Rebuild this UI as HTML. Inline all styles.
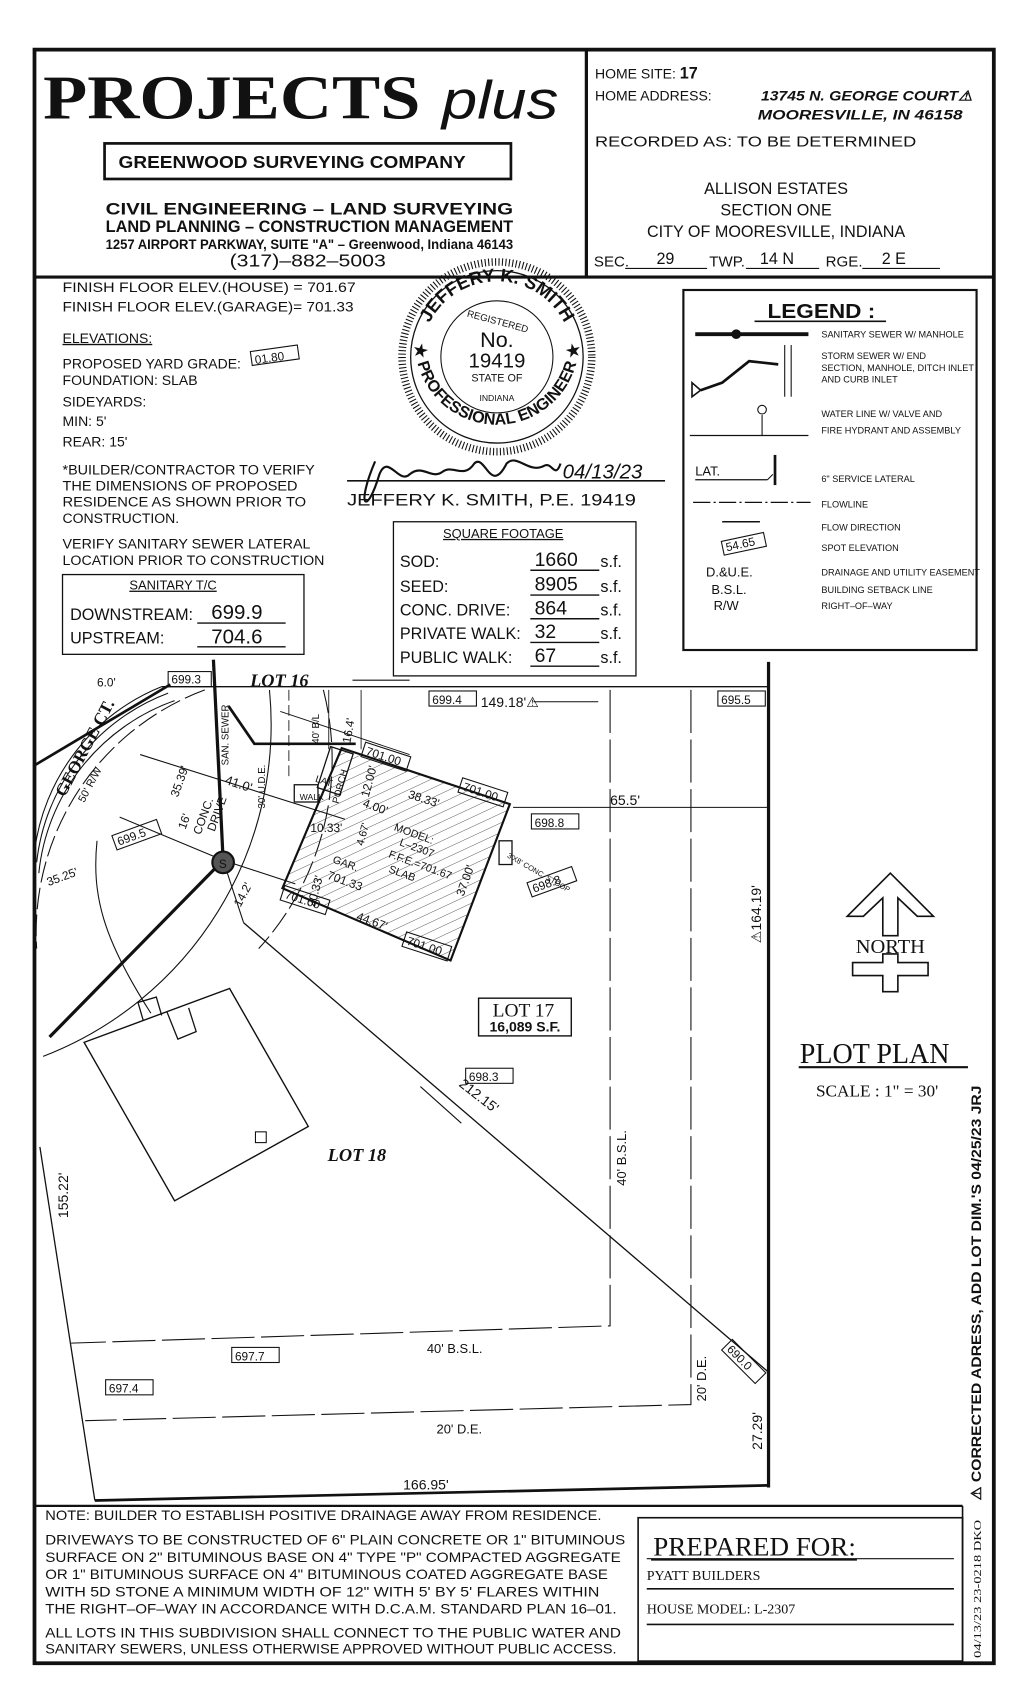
<!DOCTYPE html>
<html><head><meta charset="utf-8"><style>
html,body{margin:0;padding:0;background:#fff}
svg{display:block}
text{font-family:"Liberation Sans",sans-serif;fill:#111}
.s{font-family:"Liberation Serif",serif}
</style></head><body>
<svg width="1024" height="1687" viewBox="0 0 950 1565" xmlns="http://www.w3.org/2000/svg">
<defs>
<pattern id="h" width="8" height="8" patternUnits="userSpaceOnUse" patternTransform="rotate(-25)">
<line x1="0" y1="0" x2="8" y2="0" stroke="#444" stroke-width="0.8"/></pattern>
</defs>
<g fill="none" stroke="#111">
<rect x="32" y="46" width="890" height="1497" stroke-width="3.5"/>
<line x1="32" y1="257" x2="922" y2="257" stroke-width="3"/>
<line x1="544" y1="46" x2="544" y2="257" stroke-width="3"/>
<line x1="32" y1="1397" x2="893" y2="1397" stroke-width="2"/>
<line x1="893" y1="1397" x2="893" y2="1543" stroke-width="1.5"/>
<rect x="592" y="1408" width="301" height="133" stroke-width="1.5"/>
<line x1="600" y1="1446" x2="885" y2="1446" stroke-width="1"/>
<line x1="600" y1="1474" x2="885" y2="1474" stroke-width="1.5"/>
<line x1="600" y1="1507" x2="885" y2="1507" stroke-width="1.5"/>
<rect x="97" y="133" width="377" height="33" stroke-width="2.5"/>
<rect x="634" y="269" width="272" height="334" stroke-width="2"/>
<rect x="365" y="484" width="225" height="143" stroke-width="1.2"/>
<rect x="58" y="533" width="224" height="74" stroke-width="1.2"/>
<rect x="233" y="323" width="44" height="13" stroke-width="1" transform="rotate(-8 255 330)"/>
</g>
<text x="40" y="110" class="s" font-size="58" font-weight="bold" textLength="350" lengthAdjust="spacingAndGlyphs">PROJECTS</text>
<text x="410" y="110" font-size="50" font-style="italic" textLength="108" lengthAdjust="spacingAndGlyphs">plus</text>
<text x="110" y="156" font-size="16" font-weight="bold" textLength="322" lengthAdjust="spacingAndGlyphs">GREENWOOD SURVEYING COMPANY</text>
<text x="98" y="199" font-size="15" font-weight="bold" textLength="378" lengthAdjust="spacingAndGlyphs">CIVIL  ENGINEERING  –  LAND  SURVEYING</text>
<text x="98" y="215" font-size="15" font-weight="bold" textLength="378" lengthAdjust="spacingAndGlyphs">LAND  PLANNING  –  CONSTRUCTION  MANAGEMENT</text>
<text x="98" y="231" font-size="13" font-weight="bold" textLength="378" lengthAdjust="spacingAndGlyphs">1257 AIRPORT PARKWAY, SUITE "A" – Greenwood, Indiana 46143</text>
<text x="213" y="247" font-size="16" textLength="145" lengthAdjust="spacingAndGlyphs">(317)–882–5003</text>
<text x="552" y="73" font-size="13">HOME SITE: <tspan font-weight="bold" font-size="15">17</tspan></text>
<text x="552" y="93" font-size="13">HOME ADDRESS:</text>
<text x="706" y="93" font-size="13" font-weight="bold" font-style="italic" textLength="196" lengthAdjust="spacingAndGlyphs">13745 N. GEORGE COURT⚠</text>
<text x="703" y="111" font-size="13" font-weight="bold" font-style="italic" textLength="190" lengthAdjust="spacingAndGlyphs">MOORESVILLE, IN 46158</text>
<text x="552" y="136" font-size="14" textLength="298" lengthAdjust="spacingAndGlyphs">RECORDED AS:  TO  BE  DETERMINED</text>
<text x="720" y="180" font-size="15" text-anchor="middle">ALLISON  ESTATES</text>
<text x="720" y="200" font-size="15" text-anchor="middle">SECTION  ONE</text>
<text x="720" y="220" font-size="15" text-anchor="middle">CITY  OF  MOORESVILLE,  INDIANA</text>
<text x="551" y="247" font-size="14">SEC.</text>
<text x="609" y="245" font-size="15">29</text>
<text x="658" y="247" font-size="14">TWP.</text>
<text x="705" y="245" font-size="15">14  N</text>
<text x="766" y="247" font-size="14">RGE.</text>
<text x="818" y="245" font-size="15">2  E</text>
<g stroke="#111" stroke-width="1"><line x1="580" y1="249" x2="656" y2="249"/><line x1="692" y1="249" x2="760" y2="249"/><line x1="800" y1="249" x2="872" y2="249"/></g>
<g font-size="13">
<text x="58" y="271" textLength="272" lengthAdjust="spacingAndGlyphs">FINISH  FLOOR  ELEV.(HOUSE)  =  701.67</text>
<text x="58" y="289" textLength="270" lengthAdjust="spacingAndGlyphs">FINISH  FLOOR  ELEV.(GARAGE)=  701.33</text>
<text x="58" y="318" text-decoration="underline">ELEVATIONS:</text>
<text x="58" y="342">PROPOSED YARD GRADE:</text>
<text x="236" y="335" font-size="11" transform="rotate(-8 255 330)">01.80</text>
<text x="58" y="357">FOUNDATION: SLAB</text>
<text x="58" y="377">SIDEYARDS:</text>
<text x="58" y="395">MIN:  5'</text>
<text x="58" y="414">REAR:  15'</text>
<text x="58" y="440" textLength="234" lengthAdjust="spacingAndGlyphs">*BUILDER/CONTRACTOR  TO  VERIFY</text>
<text x="58" y="455" textLength="218" lengthAdjust="spacingAndGlyphs">THE  DIMENSIONS  OF  PROPOSED</text>
<text x="58" y="470" textLength="226" lengthAdjust="spacingAndGlyphs">RESIDENCE  AS  SHOWN  PRIOR  TO</text>
<text x="58" y="485">CONSTRUCTION.</text>
<text x="58" y="509" textLength="230" lengthAdjust="spacingAndGlyphs">VERIFY  SANITARY  SEWER  LATERAL</text>
<text x="58" y="524" textLength="243" lengthAdjust="spacingAndGlyphs">LOCATION  PRIOR  TO  CONSTRUCTION</text>
<text x="120" y="547" font-size="12" text-decoration="underline">SANITARY T/C</text>
<text x="65" y="575" font-size="15">DOWNSTREAM:</text>
<text x="65" y="597" font-size="15">UPSTREAM:</text>
<text x="196" y="574" font-size="19">699.9</text>
<text x="196" y="597" font-size="19">704.6</text>
<text x="411" y="499" font-size="12" text-decoration="underline">SQUARE FOOTAGE</text>
<text x="371" y="526" font-size="15">SOD:</text>
<text x="371" y="549" font-size="15">SEED:</text>
<text x="371" y="571" font-size="15">CONC.  DRIVE:</text>
<text x="371" y="593" font-size="15">PRIVATE  WALK:</text>
<text x="371" y="615" font-size="15">PUBLIC  WALK:</text>
<text x="496" y="525" font-size="18">1660</text>
<text x="496" y="548" font-size="18">8905</text>
<text x="496" y="570" font-size="18">864</text>
<text x="496" y="592" font-size="18">32</text>
<text x="496" y="614" font-size="18">67</text>
<text x="557" y="526" font-size="15">s.f.</text><text x="557" y="549" font-size="15">s.f.</text><text x="557" y="571" font-size="15">s.f.</text><text x="557" y="593" font-size="15">s.f.</text><text x="557" y="615" font-size="15">s.f.</text>
</g>
<g stroke="#111" stroke-width="1.3">
<line x1="183" y1="578" x2="265" y2="578"/><line x1="183" y1="600" x2="265" y2="600"/>
<line x1="492" y1="529" x2="556" y2="529"/><line x1="492" y1="552" x2="556" y2="552"/><line x1="492" y1="574" x2="556" y2="574"/><line x1="492" y1="596" x2="556" y2="596"/><line x1="492" y1="618" x2="556" y2="618"/>
</g>
<g fill="none" stroke="#111">
<circle cx="461" cy="331" r="88" stroke-width="7" stroke-dasharray="1 2.2"/>
<circle cx="461" cy="331" r="80" stroke-width="1.2"/>
<circle cx="461" cy="331" r="52" stroke-width="1"/>
</g>
<path id="arcT" d="M391,331 A70,70 0 0 1 531,331" fill="none"/>
<path id="arcB" d="M385,318 A76,76 0 0 0 537,318" fill="none"/>
<text font-size="17" font-weight="bold"><textPath href="#arcT" startOffset="50%" text-anchor="middle">JEFFERY K. SMITH</textPath></text>
<text font-size="15" font-weight="bold"><textPath href="#arcB" startOffset="50%" text-anchor="middle">★ PROFESSIONAL ENGINEER ★</textPath></text>
<text x="461" y="301" font-size="9" text-anchor="middle" transform="rotate(15 461 301)">REGISTERED</text>
<text x="461" y="322" font-size="20" text-anchor="middle">No.</text>
<text x="461" y="341" font-size="19" text-anchor="middle">19419</text>
<text x="461" y="354" font-size="10" text-anchor="middle">STATE OF</text>
<text x="461" y="372" font-size="8" text-anchor="middle">INDIANA</text>
<path d="M348,428 C330,470 340,480 352,440 C360,420 370,450 380,440 C392,430 400,445 410,438 C420,430 430,445 440,430 C450,420 455,460 470,430 C480,420 490,440 505,432 C512,428 515,445 520,430" fill="none" stroke="#111" stroke-width="2"/>
<line x1="322" y1="446" x2="617" y2="446" stroke="#111" stroke-width="1.5"/>
<text x="522" y="444" font-size="19" font-style="italic">04/13/23</text>
<text x="322" y="469" font-size="15" textLength="268" lengthAdjust="spacingAndGlyphs">JEFFERY  K.  SMITH,  P.E.  19419</text>
<text x="712" y="295" font-size="19" font-weight="bold" textLength="100" lengthAdjust="spacingAndGlyphs">LEGEND :</text>
<line x1="700" y1="298" x2="822" y2="298" stroke="#111" stroke-width="1.5"/>
<g stroke="#111" fill="none">
<line x1="645" y1="310" x2="750" y2="310" stroke-width="3.5"/>
<circle cx="683" cy="310" r="4" fill="#111"/>
<polyline points="650,362 670,355 695,335 722,338" stroke-width="2.5"/>
<line x1="728" y1="320" x2="728" y2="368" stroke-width="1"/><line x1="734" y1="320" x2="734" y2="368" stroke-width="1"/>
<polygon points="642,355 650,362 642,368" stroke-width="1.5"/>
<line x1="640" y1="404" x2="750" y2="404" stroke-width="1.2"/>
<line x1="707" y1="385" x2="707" y2="404"/><circle cx="707" cy="380" r="4"/>
<line x1="645" y1="445" x2="712" y2="445" stroke-width="1.2"/><line x1="712" y1="445" x2="717" y2="440"/>
<line x1="719" y1="422" x2="719" y2="450" stroke-width="2.5"/>
<line x1="643" y1="466" x2="752" y2="466" stroke-dasharray="16 3 2 3" stroke-width="1.2"/>
<line x1="670" y1="484" x2="705" y2="484" stroke-width="1.5"/>
<rect x="670" y="498" width="40" height="13" transform="rotate(-12 690 504)" stroke-width="1"/>
</g>
<g font-size="8.5">
<text x="762" y="313">SANITARY SEWER W/ MANHOLE</text>
<text x="762" y="333">STORM SEWER W/ END</text><text x="762" y="344">SECTION, MANHOLE, DITCH INLET</text><text x="762" y="355">AND CURB INLET</text>
<text x="762" y="387">WATER LINE W/ VALVE AND</text><text x="762" y="402">FIRE HYDRANT AND ASSEMBLY</text>
<text x="762" y="447">6" SERVICE LATERAL</text>
<text x="762" y="471">FLOWLINE</text>
<text x="762" y="492">FLOW DIRECTION</text>
<text x="762" y="511">SPOT ELEVATION</text>
<text x="762" y="534">DRAINAGE AND UTILITY EASEMENT</text>
<text x="762" y="550">BUILDING SETBACK LINE</text>
<text x="762" y="565">RIGHT–OF–WAY</text>
</g>
<text x="645" y="441" font-size="12">LAT.</text>
<text x="673" y="508" font-size="11" transform="rotate(-12 690 504)">54.65</text>
<text x="655" y="535" font-size="12">D.&amp;U.E.</text>
<text x="660" y="551" font-size="12">B.S.L.</text>
<text x="662" y="566" font-size="12">R/W</text>
<g fill="none" stroke="#111">
<line x1="713" y1="614" x2="713" y2="1380" stroke-width="3"/>
<line x1="150" y1="637" x2="713" y2="637" stroke-width="1.2"/>
<line x1="88" y1="1392" x2="713" y2="1378" stroke-width="2.5"/>
<line x1="37" y1="1064" x2="88" y2="1392" stroke-width="1.2"/>
<line x1="226" y1="856" x2="713" y2="1273" stroke-width="1.2"/>
<polyline points="566,640 566,1230 66,1246" stroke-width="1" stroke-dasharray="40 6"/>
<polyline points="641,640 641,1303 79,1318" stroke-width="1" stroke-dasharray="40 6"/>
<line x1="476" y1="749" x2="713" y2="749" stroke-width="1"/>
<polyline points="198,612 207,798 46,962" stroke-width="3"/>
<polyline points="212,655 236,690 330,690" stroke-width="2.5"/>
<line x1="158" y1="635" x2="32" y2="710" stroke-width="2.5"/>
<path d="M150,637 A190,190 0 0 0 32,790" stroke-width="1"/>
<path d="M156,643 A190,190 0 0 0 34,800" stroke-width="1"/>
<path d="M162,650 A190,190 0 0 0 36,810" stroke-width="1"/>
<path d="M190,640 A240,240 0 0 0 34,880" stroke-width="1" stroke-dasharray="20 5"/>
<path d="M250,640 A330,330 0 0 1 40,980" stroke-width="1"/>
<path d="M300,640 A260,260 0 0 1 240,880" stroke-width="1" stroke-dasharray="22 5"/>
<path d="M90,780 C85,830 95,870 140,940" stroke-width="1"/>
<line x1="130" y1="700" x2="320" y2="760" stroke-width="1"/>
<line x1="111" y1="758" x2="207" y2="798" stroke-width="1"/>
<line x1="207" y1="798" x2="274" y2="820" stroke-width="1"/>
<line x1="207" y1="798" x2="226" y2="856" stroke-width="1"/>
<line x1="260" y1="660" x2="380" y2="700" stroke-width="0.8"/>
<line x1="268" y1="640" x2="268" y2="720" stroke-width="0.8" stroke-dasharray="10 4"/>
<line x1="305" y1="640" x2="305" y2="695" stroke-width="0.8"/>
<line x1="335" y1="640" x2="335" y2="695" stroke-width="0.8"/>
<polygon points="317,694 473,746 418,891 262,824" fill="url(#h)" stroke-width="2"/>
<rect x="300" y="695" width="22" height="40" stroke-width="1.2" transform="rotate(18 311 715)"/>
<rect x="273" y="728" width="22" height="16" stroke-width="1.2"/>
<rect x="463" y="780" width="12" height="22" stroke-width="1.2"/>
<polygon points="78,967 213,917 286,1045 162,1114" stroke-width="1.3"/>
<polyline points="133,947 128,930 145,925 150,942" stroke-width="1.2"/>
<polyline points="155,939 165,964 182,957 175,935" stroke-width="1.2"/>
<rect x="237" y="1050" width="10" height="10" stroke-width="1"/>
<rect x="444" y="926" width="86" height="35" stroke-width="1.3"/>
<polygon points="826,810 866,850 851,850 833,833 833,868 819,868 819,833 801,850 786,850" stroke-width="1.5"/>
<polygon points="819,885 833,885 833,893 861,893 861,905 833,905 833,920 819,920 819,905 791,905 791,893 819,893" stroke-width="1.5"/>
<line x1="741" y1="990" x2="898" y2="990" stroke-width="2"/>
<line x1="390" y1="1008" x2="428" y2="1042" stroke-width="1"/>
<line x1="327" y1="631" x2="380" y2="631" stroke-width="1"/>
<line x1="495" y1="651" x2="555" y2="651" stroke-width="1"/>
<circle cx="207" cy="800" r="10" fill="#555" stroke-width="2"/>
</g>
<text x="203" y="805" font-size="11" fill="#111">S</text>
<g font-size="11">
<rect x="156" y="623" width="40" height="14" fill="none" stroke="#111"/><text x="159" y="634">699.3</text>
<text x="90" y="637">6.0'</text>
<text x="232" y="637" font-size="17" font-style="italic" font-weight="bold" class="s">LOT 16</text>
<rect x="398" y="641" width="44" height="14" fill="none" stroke="#111"/><text x="401" y="653">699.4</text>
<text x="446" y="656" font-size="13">149.18'⚠</text>
<rect x="666" y="641" width="44" height="14" fill="none" stroke="#111"/><text x="669" y="653">695.5</text>
<text x="566" y="747" font-size="13">65.5'</text>
<rect x="493" y="755" width="44" height="14" fill="none" stroke="#111"/><text x="496" y="767">698.8</text>
<g transform="rotate(-20 512 818)"><rect x="490" y="811" width="44" height="14" fill="none" stroke="#111"/><text x="493" y="822">698.8</text></g>
<text x="487" y="957" font-size="13" font-weight="bold" text-anchor="middle">16,089 S.F.</text>
<text x="457" y="943" font-size="18" class="s">LOT 17</text>
<rect x="432" y="991" width="44" height="14" fill="none" stroke="#111"/><text x="435" y="1003">698.3</text>
<text x="425" y="1007" font-size="13" transform="rotate(38 425 1007)">212.15'</text>
<text x="304" y="1077" font-size="17" font-style="italic" font-weight="bold" class="s">LOT 18</text>
<text x="581" y="1100" font-size="12" transform="rotate(-90 581 1100)">40' B.S.L.</text>
<text x="396" y="1255" font-size="12">40'  B.S.L.</text>
<text x="405" y="1330" font-size="12">20'  D.E.</text>
<text x="655" y="1300" font-size="12" transform="rotate(-90 655 1300)">20'  D.E.</text>
<rect x="215" y="1250" width="44" height="14" fill="none" stroke="#111"/><text x="218" y="1262">697.7</text>
<rect x="98" y="1280" width="44" height="14" fill="none" stroke="#111"/><text x="101" y="1292">697.4</text>
<g transform="rotate(45 690 1263)"><rect x="668" y="1256" width="44" height="14" fill="none" stroke="#111"/><text x="671" y="1267">690.0</text></g>
<text x="374" y="1382" font-size="13">166.95'</text>
<text x="63" y="1130" font-size="13" transform="rotate(-90 63 1130)">155.22'</text>
<text x="707" y="1345" font-size="13" transform="rotate(-90 707 1345)">27.29'</text>
<text x="706" y="875" font-size="13" transform="rotate(-90 706 875)">⚠164.19'</text>
<text x="60" y="740" font-size="16" font-weight="bold" class="s" transform="rotate(-62 60 740)">GEORGE CT.</text>
<text x="78" y="745" font-size="10" transform="rotate(-62 78 745)">50' R/W</text>
<text x="45" y="822" font-size="11" transform="rotate(-20 45 822)">35.25'</text>
<g transform="rotate(-20 125 775)"><rect x="105" y="768" width="44" height="14" fill="none" stroke="#111"/><text x="108" y="779">699.5</text></g>
<text x="165" y="740" font-size="11" transform="rotate(-70 165 740)">35.39'</text>
<text x="172" y="770" font-size="11" transform="rotate(-70 172 770)">16'</text>
<text x="186" y="775" font-size="11" transform="rotate(-70 186 775)">CONC.</text>
<text x="199" y="772" font-size="11" transform="rotate(-70 199 772)">DRIVE</text>
<text x="212" y="710" font-size="9" transform="rotate(-90 212 710)">SAN. SEWER</text>
<text x="208" y="727" font-size="12" transform="rotate(18 208 727)">41.0'</text>
<text x="246" y="750" font-size="9" transform="rotate(-90 246 750)">30' U.D.E.</text>
<text x="296" y="690" font-size="9" transform="rotate(-90 296 690)">40' B/L</text>
<text x="325" y="690" font-size="11" transform="rotate(-80 325 690)">16.4'</text>
<text x="292" y="725" font-size="9" transform="rotate(18 292 725)">LAT.</text>
<text x="278" y="742" font-size="8">WALK</text>
<text x="314" y="746" font-size="9" transform="rotate(-75 314 746)">PORCH</text>
<text x="342" y="740" font-size="11" transform="rotate(-75 342 740)">12.00'</text>
<text x="336" y="748" font-size="11" transform="rotate(20 336 748)">4.00'</text>
<text x="378" y="740" font-size="11" transform="rotate(18 378 740)">38.33'</text>
<text x="288" y="772" font-size="11">10.33'</text>
<text x="337" y="785" font-size="10" transform="rotate(-75 337 785)">4.67'</text>
<text x="292" y="842" font-size="11" transform="rotate(-75 292 842)">20.33'</text>
<text x="308" y="800" font-size="10" transform="rotate(20 308 800)">GAR.</text>
<text x="303" y="815" font-size="11" transform="rotate(20 303 815)">701.33</text>
<text x="365" y="770" font-size="10" transform="rotate(20 365 770)">MODEL:</text>
<text x="370" y="784" font-size="10" transform="rotate(20 370 784)">L–2307</text>
<text x="360" y="795" font-size="10" transform="rotate(20 360 795)">F.F.E.=701.67</text>
<text x="360" y="809" font-size="10" transform="rotate(20 360 809)">SLAB</text>
<text x="430" y="832" font-size="11" transform="rotate(-70 430 832)">37.00'</text>
<text x="330" y="853" font-size="11" transform="rotate(20 330 853)">44.67'</text>
<text x="223" y="842" font-size="11" transform="rotate(-62 223 842)">14.2'</text>
<g transform="rotate(18 358 702)"><rect x="336" y="695" width="44" height="14" fill="none" stroke="#111"/><text x="339" y="706">701.00</text></g>
<g transform="rotate(18 448 735)"><rect x="426" y="728" width="44" height="14" fill="none" stroke="#111"/><text x="429" y="739">701.00</text></g>
<g transform="rotate(18 283 835)"><rect x="261" y="828" width="44" height="14" fill="none" stroke="#111"/><text x="264" y="839">701.00</text></g>
<g transform="rotate(18 396 878)"><rect x="374" y="871" width="44" height="14" fill="none" stroke="#111"/><text x="377" y="882">701.00</text></g>
<text x="470" y="795" font-size="7" transform="rotate(30 470 795)">3'X8' CONC. STOOP</text>
</g>
<text x="826" y="884" font-size="19" class="s" text-anchor="middle">NORTH</text>
<text x="742" y="986" font-size="26" class="s">PLOT PLAN</text>
<text x="757" y="1017" font-size="16" class="s">SCALE : 1" = 30'</text>
<text x="910" y="1392" font-size="13" font-weight="bold" transform="rotate(-90 910 1392)" textLength="385" lengthAdjust="spacingAndGlyphs">⚠ CORRECTED  ADRESS,  ADD  LOT  DIM.'S  04/25/23  JRJ</text>
<text x="910" y="1538" font-size="10" class="s" transform="rotate(-90 910 1538)" textLength="128" lengthAdjust="spacingAndGlyphs">04/13/23  23-0218  DKO</text>
<g font-size="12.5">
<text x="42" y="1410" textLength="516" lengthAdjust="spacingAndGlyphs">NOTE:  BUILDER  TO  ESTABLISH  POSITIVE  DRAINAGE  AWAY  FROM  RESIDENCE.</text>
<text x="42" y="1433" textLength="538" lengthAdjust="spacingAndGlyphs">DRIVEWAYS  TO  BE  CONSTRUCTED  OF  6"  PLAIN  CONCRETE  OR  1"  BITUMINOUS</text>
<text x="42" y="1449" textLength="534" lengthAdjust="spacingAndGlyphs">SURFACE  ON  2"  BITUMINOUS  BASE  ON  4"  TYPE  "P"  COMPACTED  AGGREGATE</text>
<text x="42" y="1465" textLength="522" lengthAdjust="spacingAndGlyphs">OR  1"  BITUMINOUS  SURFACE  ON  4"  BITUMINOUS  COATED  AGGREGATE  BASE</text>
<text x="42" y="1481" textLength="514" lengthAdjust="spacingAndGlyphs">WITH  5D  STONE  A  MINIMUM  WIDTH  OF  12"  WITH  5'  BY  5'  FLARES  WITHIN</text>
<text x="42" y="1497" textLength="530" lengthAdjust="spacingAndGlyphs">THE  RIGHT–OF–WAY  IN  ACCORDANCE  WITH  D.C.A.M.  STANDARD  PLAN  16–01.</text>
<text x="42" y="1519" textLength="534" lengthAdjust="spacingAndGlyphs">ALL  LOTS  IN  THIS  SUBDIVISION  SHALL  CONNECT  TO  THE  PUBLIC  WATER  AND</text>
<text x="42" y="1534" textLength="530" lengthAdjust="spacingAndGlyphs">SANITARY  SEWERS,  UNLESS  OTHERWISE  APPROVED  WITHOUT  PUBLIC  ACCESS.</text>
</g>
<text x="606" y="1443" font-size="24" class="s" textLength="188" lengthAdjust="spacingAndGlyphs">PREPARED FOR:</text>
<line x1="604" y1="1447" x2="795" y2="1447" stroke="#111" stroke-width="1.5"/>
<text x="600" y="1466" font-size="13" class="s" fill="#444">PYATT BUILDERS</text>
<text x="600" y="1497" font-size="13" class="s" fill="#444">HOUSE MODEL:  L-2307</text>
</svg>
</body></html>
